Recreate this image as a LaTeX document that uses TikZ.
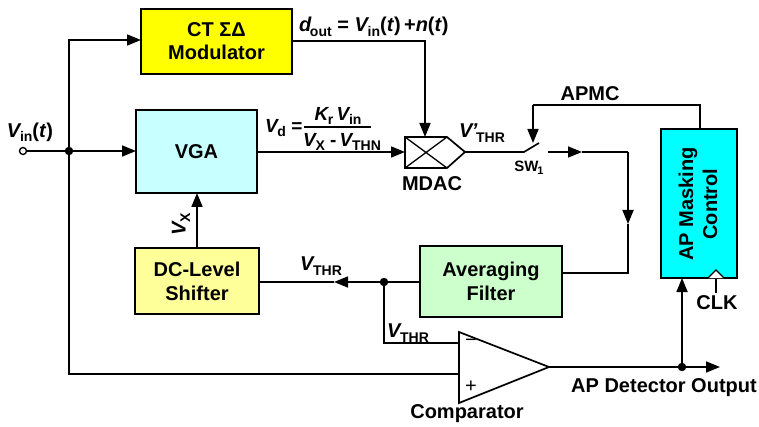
\documentclass[tikz,border=0pt]{standalone}
\usepackage{fontspec}
\setmainfont{Liberation Sans}
\usetikzlibrary{arrows.meta,calc,positioning}
\newcommand{\lsub}[1]{\kern-0.08em\raisebox{-0.22em}{\fontsize{14}{15}\selectfont #1}}
\newcommand{\vv}[1]{\textit{#1}}
\definecolor{vgacol}{RGB}{200,255,255}
\definecolor{apcol}{RGB}{0,255,255}
\definecolor{dccol}{RGB}{255,255,153}
\definecolor{avgcol}{RGB}{204,255,204}
\definecolor{ctcol}{RGB}{255,255,0}
\tikzset{
  x=1pt,y=-1pt,
  every node/.style={font=\bfseries\fontsize{20}{22}\selectfont,inner sep=0pt,outer sep=0pt,align=center},
  blockbox/.style={draw=black,line width=1.7pt,minimum width=#1,anchor=north west},
  wire/.style={line width=1.7pt,draw=black},
  arr/.style={wire,-{Triangle[length=14pt,width=11pt]}},
  thin wire/.style={line width=1.3pt,draw=black},
  dot/.style={circle,fill=black,minimum size=8.5pt},
  lab/.style={font=\bfseries\fontsize{20}{22}\selectfont},
  fraclab/.style={font=\bfseries\fontsize{19}{21}\selectfont},
  sm/.style={font=\bfseries\fontsize{15}{16}\selectfont},
}
\begin{document}
\begin{tikzpicture}
\useasboundingbox (0,0) rectangle (759,427);
% blocks
\node[blockbox=151pt,minimum height=65pt,fill=ctcol] (ct) at (141,9) {CT \char"03A3\char"0394\\[1pt]Modulator};
\node[blockbox=121pt,minimum height=83pt,fill=vgacol] (vga) at (136,110) {VGA};
\node[blockbox=124pt,minimum height=66pt,fill=dccol] (dc) at (135,248) {DC-Level\\[2pt]Shifter};
\node[blockbox=142pt,minimum height=71pt,fill=avgcol] (avg) at (420,246) {Averaging\\[2pt]Filter};
\node[draw=black,line width=1.7pt,fill=apcol,minimum width=76pt,minimum height=149pt,anchor=north west] (ap) at (661,129) {};
\node[rotate=90] (aplab) at (698,204) {AP Masking\\[2pt]Control};
% clock mark
\coordinate (ckl) at (708,278);
\coordinate (ckt) at (716,270);
\coordinate (ckr) at (724,278);
\draw[thin wire,fill=white] (ckl) -- (ckt) -- (ckr);
% MDAC
\coordinate (mnw) at (405,137);
\coordinate (msw) at (405,168);
\coordinate (mne) at (447,137);
\coordinate (mse) at (447,168);
\coordinate (mdac) at (465,152);
\coordinate (mtop) at (425,137);
\coordinate (mw) at (405,152);
\draw[line width=1.7pt] (mnw) -- (mne) -- (mdac) -- (mse) -- (msw) -- cycle;
\draw[thin wire] (mnw) -- (mse) (msw) -- (mne);
\node (mdaclab) at (432,184) {MDAC};
% comparator
\coordinate (cn) at (459,332);
\coordinate (cs) at (459,403);
\coordinate (ctip) at (549,367);
\coordinate (cminus) at (459,343);
\coordinate (cplus) at (459,374);
\draw[line width=1.7pt] (cn) -- (ctip) -- (cs) -- cycle;
\node[font=\fontsize{20}{20}\selectfont] (mi) at (471,343) {\char"2212};
\node[font=\fontsize{20}{20}\selectfont] (pl) at (471,387) {+};
\node[lab] (cmplab) at (467,414) {Comparator};
% input
\node[circle,draw=black,line width=1.4pt,fill=white,minimum size=7pt] (in) at (23,151) {};
\node[dot] (j1) at (69,151) {};
\node[lab] (vin) at (30,132) {\vv{V}\lsub{in}(\vv{t})};
\coordinate (ctin) at (141,40);
\coordinate (vgain) at (136,151);
\draw[wire] (in) -- (j1);
\draw[arr] (j1) -- (vgain);
\draw[arr] (j1) |- (ctin);
\draw[wire] (j1) |- (cplus);
% CT to MDAC
\coordinate (ctout) at (292,41);
\draw[arr] (ctout) -| (mtop);
\node[lab,anchor=west] (dout) at (299,27) {\vv{d}\lsub{out} = \vv{V}\lsub{in}(\vv{t})\,+\vv{n}(\vv{t})};
% VGA to MDAC
\coordinate (vgaout) at (257,152);
\draw[arr] (vgaout) -- (mw);
\node[fraclab,anchor=west] (vd) at (265,128) {\vv{V}\lsub{d} =};
\node[fraclab] (num) at (338,116) {\vv{K}\lsub{r}\,\vv{V}\lsub{in}};
\node[fraclab] (den) at (342,142) {\vv{V}\lsub{X} -\,\vv{V}\lsub{THN}};
\coordinate (fl) at (304,127);
\coordinate (fr) at (371,127);
\draw[thin wire] (fl) -- (fr);
% VX
\coordinate (dctop) at (197,248);
\coordinate (vgabot) at (197,193);
\draw[arr] (dctop) -- (vgabot);
\node[lab,rotate=90] (vx) at (181,224) {\vv{V}\lsub{X}};
% MDAC output and switch
\coordinate (swl) at (524,152);
\coordinate (swb) at (539,143);
\coordinate (swr) at (548,152);
\coordinate (swarr) at (582,152);
\coordinate (swc) at (628,152);
\coordinate (avgd) at (628,224);
\coordinate (avgin) at (562,273);
\draw[wire] (mdac) -- (swl) -- (swb);
\draw[arr] (swr) -- (swarr);
\draw[wire] (swarr) -- (swc);
\draw[arr] (swc) -- (avgd);
\draw[wire] (avgd) |- (avgin);
\node[lab,anchor=west] (vthrp) at (459,133) {\vv{V\kern-0.02em'}\lsub{THR}};
\node[sm] (sw) at (529,168) {SW\lsub{\fontsize{11}{12}\selectfont 1}};
% APMC
\coordinate (aptop) at (700,129);
\coordinate (apup) at (700,105);
\coordinate (swtop) at (533,105);
\coordinate (swtip) at (533,143);
\draw[wire] (aptop) -- (apup) -- (swtop);
\draw[arr] (swtop) -- (swtip);
\node[lab] (apmc) at (590,94) {APMC};
% Feedback
\coordinate (avgout) at (420,282);
\node[dot] (j2) at (384,282) {};
\coordinate (thrarr) at (334,282);
\coordinate (dcin) at (259,282);
\draw[wire] (avgout) -- (j2);
\draw[arr] (j2) -- (thrarr);
\draw[wire] (thrarr) -- (dcin);
\draw[wire] (j2) |- (cminus);
\node[lab] (vt1) at (321,266) {\vv{V}\lsub{THR}};
\node[lab] (vt2) at (408,333) {\vv{V}\lsub{THR}};
% Output
\node[dot] (j3) at (682,367) {};
\coordinate (outend) at (720,367);
\coordinate (apbot) at (682,278);
\draw[wire] (ctip) -- (j3);
\draw[arr] (j3) -- (outend);
\draw[arr] (j3) -- (apbot);
\node[lab] (outl) at (664,388) {AP Detector Output};
% CLK
\coordinate (clkt) at (716,279);
\coordinate (clkb) at (716,293);
\draw[thin wire] (clkt) -- (clkb);
\node[lab] (clk) at (717,303) {CLK};
\end{tikzpicture}
\end{document}
